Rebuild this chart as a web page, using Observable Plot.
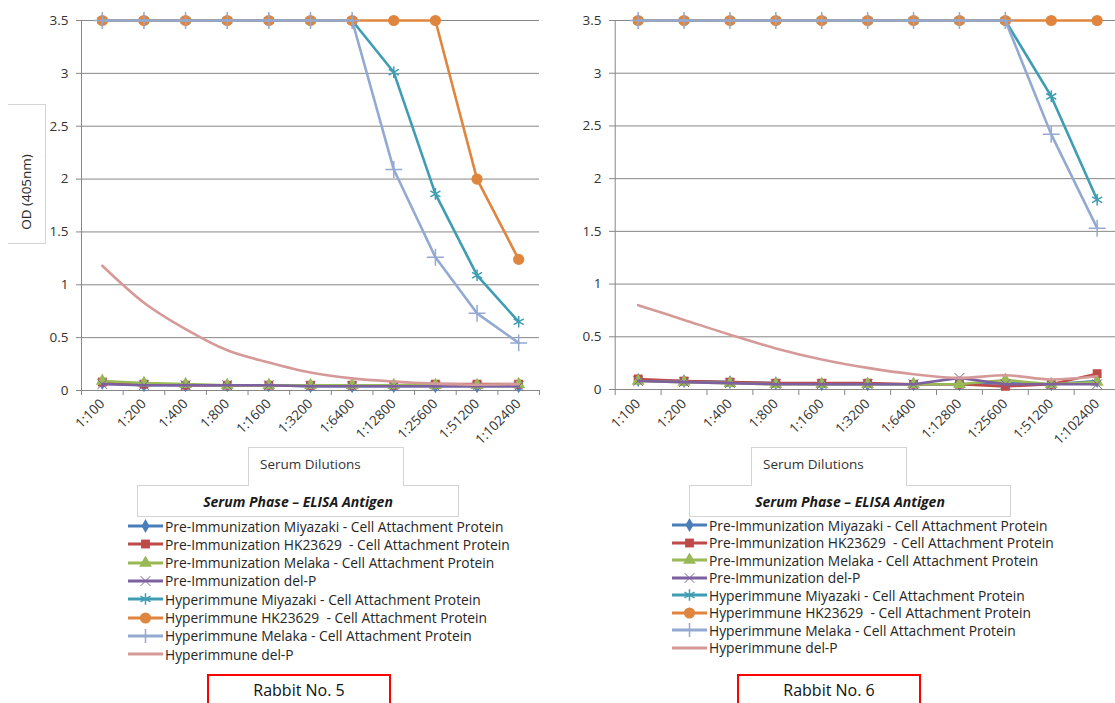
<!DOCTYPE html>
<html>
<head>
<meta charset="utf-8">
<script src="https://cdn.jsdelivr.net/npm/d3@7"></script>
<script src="https://cdn.jsdelivr.net/npm/@observablehq/plot@0.6"></script>
<style>
  html, body { margin: 0; padding: 0; background: #fff; }
  #root { position: relative; width: 1115px; height: 703px; overflow: hidden; background: #fff;
          font-family: "Open Sans", "Liberation Sans", Arial, sans-serif; color: #262626; }
  .abs { position: absolute; box-sizing: border-box; }
  .box { border: 1px solid #d4d4d4; background: #fff; display: flex; align-items: center; justify-content: center; }
  .legend-row { position: absolute; height: 14px; display: flex; align-items: center; font-size: 13.8px; white-space: pre; color: #262626; }
  .legend-row svg { display: block; margin-right: 2px; }
  .rabbit { border: 2px solid #ff0000; background: #fff; font-size: 16px; color: #111; display: flex; justify-content: center; padding-top: 3px; }
</style>
</head>
<body>
<div id="root"></div>
<script>
// ---------- data ----------
const dilutions = ["1:100","1:200","1:400","1:800","1:1600","1:3200","1:6400","1:12800","1:25600","1:51200","1:102400"];
const yTicks = [0, 0.5, 1, 1.5, 2, 2.5, 3, 3.5];
const yTickLabels = ["0","0.5","1","1.5","2","2.5","3","3.5"];

const seriesNames = [
  "Pre-Immunization Miyazaki - Cell Attachment Protein",
  "Pre-Immunization HK23629  - Cell Attachment Protein",
  "Pre-Immunization Melaka - Cell Attachment Protein",
  "Pre-Immunization del-P",
  "Hyperimmune Miyazaki - Cell Attachment Protein",
  "Hyperimmune HK23629  - Cell Attachment Protein",
  "Hyperimmune Melaka - Cell Attachment Protein",
  "Hyperimmune del-P"
];
const seriesColors = ["#4A7EBB","#BE4B48","#98B954","#7D60A0","#3E9DB3","#E0853D","#93A9D1","#D59A98"];
const seriesSymbols = ["diamond","square","triangle","times","asterisk","circle","plus",null];

// Rabbit No. 5
const r5PreMiyazaki = [0.07,0.05,0.05,0.05,0.05,0.04,0.04,0.04,0.04,0.04,0.04];
const r5PreHK       = [0.08,0.06,0.05,0.05,0.05,0.05,0.05,0.05,0.06,0.06,0.06];
const r5PreMelaka   = [0.09,0.07,0.06,0.05,0.05,0.05,0.05,0.05,0.05,0.05,0.06];
const r5PreDelP     = [0.06,0.05,0.05,0.05,0.05,0.04,0.04,0.04,0.04,0.04,0.04];
const r5HypMiyazaki = [3.5,3.5,3.5,3.5,3.5,3.5,3.5,3.01,1.86,1.09,0.65];
const r5HypHK       = [3.5,3.5,3.5,3.5,3.5,3.5,3.5,3.5,3.5,2.0,1.24];
const r5HypMelaka   = [3.5,3.5,3.5,3.5,3.5,3.5,3.5,2.09,1.26,0.73,0.45];
const r5HypDelP     = [1.18,0.83,0.58,0.38,0.265,0.17,0.115,0.085,0.065,0.055,0.06];

// Rabbit No. 6
const r6PreMiyazaki = [0.09,0.08,0.07,0.06,0.05,0.05,0.05,0.05,0.06,0.05,0.08];
const r6PreHK       = [0.10,0.08,0.07,0.06,0.06,0.06,0.05,0.05,0.03,0.05,0.15];
const r6PreMelaka   = [0.08,0.07,0.06,0.05,0.05,0.05,0.05,0.05,0.09,0.05,0.07];
const r6PreDelP     = [0.08,0.07,0.06,0.05,0.05,0.05,0.05,0.11,0.05,0.05,0.05];
const r6HypMiyazaki = [3.5,3.5,3.5,3.5,3.5,3.5,3.5,3.5,3.5,2.78,1.80];
const r6HypHK       = [3.5,3.5,3.5,3.5,3.5,3.5,3.5,3.5,3.5,3.5,3.5];
const r6HypMelaka   = [3.5,3.5,3.5,3.5,3.5,3.5,3.5,3.5,3.5,2.42,1.53];
const r6HypDelP     = [0.80,0.66,0.52,0.39,0.285,0.205,0.145,0.11,0.135,0.095,0.125];

const rabbit5 = [r5PreMiyazaki, r5PreHK, r5PreMelaka, r5PreDelP, r5HypMiyazaki, r5HypHK, r5HypMelaka, r5HypDelP];
const rabbit6 = [r6PreMiyazaki, r6PreHK, r6PreMelaka, r6PreDelP, r6HypMiyazaki, r6HypHK, r6HypMelaka, r6HypDelP];

// ---------- styling ----------
const symbolStyle = {
  diamond:  {r: 4.2, filled: true},
  square:   {r: 5,   filled: true},
  triangle: {r: 4.8, filled: true},
  times:    {r: 4.5, filled: false, sw: 1},
  asterisk: {r: 5.5, filled: false, sw: 1.5},
  circle:   {r: 5.6, filled: true},
  plus:     {r: 5.5, filled: false, sw: 1.5}
};
const GRID = "#878787";
const FONT = "'Open Sans', 'Liberation Sans', Arial, sans-serif";

function makeChart(series, cfg) {
  const idx = dilutions.map((d, i) => i);
  const bounds = d3.range(-0.5, dilutions.length, 1);
  const marks = [
    Plot.gridY({ticks: yTicks.slice(1), stroke: GRID, strokeOpacity: 1}),
    Plot.ruleY([0], {stroke: GRID}),
    Plot.ruleX([-0.5], {stroke: GRID}),
    Plot.axisY({ticks: yTicks, tickSize: 5, tickFormat: () => "", stroke: GRID, label: null}),
    Plot.axisY({ticks: yTicks, tickSize: 0, tickPadding: 13, tickFormat: d => yTickLabels[yTicks.indexOf(d)], fill: "#333", fontSize: 13.5, label: null}),
    Plot.axisX({ticks: bounds, tickSize: 5, tickFormat: () => "", stroke: GRID, label: null}),
    Plot.axisX({ticks: idx, tickSize: 0, tickPadding: 11, tickRotate: -45, tickFormat: i => dilutions[i], fill: "#333", fontSize: 13.5, label: null})
  ];
  series.forEach((vals, s) => {
    const data = vals.map((v, i) => ({i, v}));
    marks.push(Plot.line(data, {
      x: "i", y: "v", stroke: seriesColors[s], strokeWidth: 2.6,
      curve: s === 7 ? "monotone-x" : "linear", strokeLinejoin: "round"
    }));
    const sym = seriesSymbols[s];
    if (sym) {
      const st = symbolStyle[sym];
      marks.push(Plot.dot(data, st.filled
        ? {x: "i", y: "v", symbol: sym, r: st.r, fill: seriesColors[s], stroke: "none"}
        : {x: "i", y: "v", symbol: sym, r: st.r, fill: "none", stroke: seriesColors[s], strokeWidth: st.sw}));
    }
  });
  return Plot.plot({
    width: cfg.width, height: 450,
    marginLeft: cfg.marginLeft, marginRight: cfg.marginRight, marginTop: 20, marginBottom: 60,
    x: {type: "linear", domain: [-0.5, dilutions.length - 0.5], range: cfg.xRange, axis: null},
    y: {domain: [0, 3.5], range: [cfg.y0, 20], axis: null},
    style: {fontFamily: FONT, fontSize: "13px", background: "transparent", overflow: "visible"},
    marks
  });
}

const root = document.getElementById("root");

function place(el, left, top) {
  el.style.position = "absolute";
  el.style.left = left + "px";
  el.style.top = top + "px";
  root.appendChild(el);
  return el;
}

function div(cls, left, top, w, h, html, extra) {
  const d = document.createElement("div");
  d.className = "abs " + cls;
  Object.assign(d.style, {left: left + "px", top: top + "px", width: w + "px", height: h + "px"}, extra || {});
  d.innerHTML = html;
  root.appendChild(d);
  return d;
}

function legendSwatch(s) {
  const w = 35, h = 14;
  const svg = d3.create("svg").attr("width", w).attr("height", h);
  svg.append("line").attr("x1", 0).attr("x2", w).attr("y1", h / 2).attr("y2", h / 2)
     .attr("stroke", seriesColors[s]).attr("stroke-width", 3);
  const sym = seriesSymbols[s];
  if (sym) {
    const st = symbolStyle[sym];
    const map = {diamond: d3.symbolDiamond, square: d3.symbolSquare, triangle: d3.symbolTriangle,
                 times: d3.symbolTimes, asterisk: d3.symbolAsterisk, circle: d3.symbolCircle, plus: d3.symbolPlus};
    const p = svg.append("path").attr("transform", `translate(${w / 2},${h / 2})`)
      .attr("d", d3.symbol(map[sym], Math.PI * st.r * st.r)());
    if (st.filled) p.attr("fill", seriesColors[s]);
    else p.attr("fill", "none").attr("stroke", seriesColors[s]).attr("stroke-width", st.sw);
  }
  return svg.node();
}

function legend(left, top, step) {
  seriesNames.forEach((name, s) => {
    const row = document.createElement("div");
    row.className = "legend-row";
    row.style.left = left + "px";
    row.style.top = (top + s * step - 7) + "px";
    row.appendChild(legendSwatch(s));
    const t = document.createElement("span");
    t.textContent = name;
    row.appendChild(t);
    root.appendChild(row);
  });
}

// ----- left chart (Rabbit No. 5) -----
const left = makeChart(rabbit5, {width: 557, marginLeft: 81, marginRight: 18, xRange: [81, 539], y0: 390});
place(left, 0, 0);
// y-axis title box
div("", 8, 104, 38, 140, "", {borderTop: "1px solid #d4d4d4", borderRight: "1px solid #d4d4d4", borderBottom: "1px solid #d4d4d4", background: "transparent"});
div("", 8, 183, 36, 20,
  "<div style='transform: rotate(-90deg); white-space: nowrap; font-size: 13.5px; color:#262626; text-align:center; width:90px; margin-left:-27px; margin-top:0px'>OD (405nm)</div>",
  {overflow: "visible"});

// ----- right chart (Rabbit No. 6) -----
const right = makeChart(rabbit6, {width: 558, marginLeft: 57, marginRight: 0, xRange: [57.7, 562.6], y0: 389});
place(right, 557, 0);

// ----- boxes under the charts -----
function captionBlock(titleLeft, serumLeft, legendLeft, legendTop, legendStep, rabbitLeft, rabbitText) {
  div("box", titleLeft, 485, 322, 32, "<span style='font-weight:bold; font-style:italic; font-size:14px; color:#1a1a1a'>Serum Phase \u2013 ELISA Antigen</span>");
  div("box", serumLeft, 447, 156, 39, "<span style='font-size:13.5px; color:#333'>Serum Dilutions</span>",
      {borderBottom: "none", paddingBottom: "6px", justifyContent: "flex-start", paddingLeft: "11px"});
  legend(legendLeft, legendTop, legendStep);
  div("rabbit", rabbitLeft, 674, 184, 40, rabbitText);
}
captionBlock(137, 248, 128, 526, 18.3, 207, "Rabbit No. 5");
captionBlock(689, 751, 672, 525, 17.5, 737, "Rabbit No. 6");
</script>
</body>
</html>
